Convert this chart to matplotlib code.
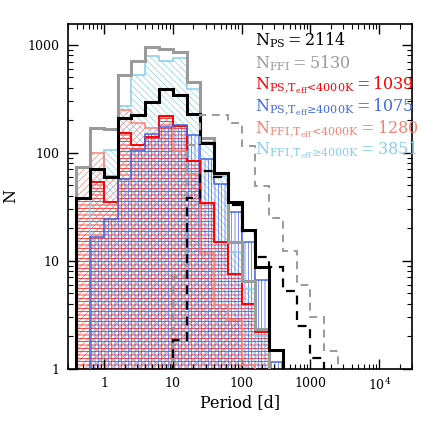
import numpy as np
import matplotlib
matplotlib.use("Agg")
import matplotlib.pyplot as plt
from matplotlib.ticker import FixedLocator, LogLocator, NullFormatter

plt.rcParams['font.family'] = 'DejaVu Serif'
plt.rcParams['mathtext.fontset'] = 'dejavuserif'
plt.rcParams['hatch.linewidth'] = 0.5

# bin edges in log10(Period/d)
log_edges = np.round(np.arange(-0.4, 3.41, 0.2), 2)
edges = 10 ** log_edges

# counts per bin
n_ps        = [38, 71, 60, 209, 225, 295, 390, 344, 228, 123, 65.5, 35.3, 19.3, 8.8, 1.5, 0, 0, 0, 0]
n_ffi       = [74, 171, 166, 520, 713, 946, 914, 857, 452, 137, 65, 15, 6.5, 2.3, 0, 0, 0, 0, 0]
n_ps_cool   = [38, 54, 35, 152, 117, 141, 217, 176, 83, 34, 15, 7.5, 4.0, 2.2, 0, 0, 0, 0, 0]
n_ps_hot    = [0, 16.7, 24.2, 57, 106, 150, 175, 180, 147, 88, 51, 28, 15, 6.6, 1.15, 0, 0, 0, 0]
n_ffi_cool  = [74, 100, 61, 250, 189, 170, 213, 103, 63, 11.7, 3.9, 2.8, 1.07, 0, 0, 0, 0, 0, 0]
n_ffi_hot   = [0, 71, 105, 270, 530, 780, 701, 754, 389, 125, 61, 12, 5.5, 2.0, 0, 0, 0, 0, 0]
n_ps_dash   = [0, 0, 0, 0, 0, 0, 0, 1.84, 38, 68, 60, 33, 19, 10.7, 8.8, 5.2, 2.5, 1.24, 0]
n_ffi_dash  = [0, 0, 0, 0, 0, 0, 0, 7.1, 117, 225, 225, 188, 116, 49, 24.7, 12.3, 6.0, 3.0, 1.45]

labels = [r'$\mathrm{N}_{\text{PS}}=\mathrm{2114}$',
          r'$\mathrm{N}_{\text{FFI}}=\mathrm{5130}$',
          r'$\mathrm{N}_{\text{PS,T}_{\text{eff}}\text{<4000K}}=\mathrm{1039}$',
          r'$\mathrm{N}_{\text{PS,T}_{\text{eff}}\text{≥4000K}}=\mathrm{1075}$',
          r'$\mathrm{N}_{\text{FFI,T}_{\text{eff}}\text{<4000K}}=\mathrm{1280}$',
          r'$\mathrm{N}_{\text{FFI,T}_{\text{eff}}\text{≥4000K}}=\mathrm{3851}$']
label_colors = ['black', '#9a9a9a', 'red', 'royalblue', 'salmon', 'skyblue']

xticks = [1, 10, 100, 1000, 10000]
xticklabels = ['1', '10', '100', '1000', r'10$^4$']
yticks = [1, 10, 100, 1000]
yticklabels = ['1', '10', '100', '1000']

fig = plt.figure(figsize=(4.36, 4.36), dpi=100)
ax = fig.add_axes([68 / 436, 67.5 / 436, 344 / 436, 344.5 / 436])
ax.set_xscale('log')
ax.set_yscale('log')


def prep(v):
    v = np.asarray(v, dtype=float)
    return np.where(v > 0, v, 0.5)


# hatched fills
fills = [(n_ffi_hot, 'skyblue', '\\\\\\\\\\'),
         (n_ffi_cool, 'salmon', '/////'),
         (n_ps_cool, 'red', '-----'),
         (n_ps_hot, 'royalblue', '|||||')]
for vals, col, h in fills:
    ax.stairs(prep(vals), edges, baseline=0.5, fill=True, facecolor='none',
              edgecolor=col, hatch=h, linewidth=0, zorder=1)

# outlines
outlines = [(n_ffi_hot, 'skyblue', 1.1, '-'),
            (n_ffi_cool, 'salmon', 1.1, '-'),
            (n_ps_cool, 'red', 1.4, '-'),
            (n_ps_hot, 'royalblue', 1.1, '-'),
            (n_ffi, '#9a9a9a', 2.2, '-'),
            (n_ps, 'black', 2.2, '-'),
            (n_ffi_dash, '#9a9a9a', 1.4, (0, (4, 3))),
            (n_ps_dash, 'black', 1.6, (0, (4, 3)))]
for i, (vals, col, lw, ls) in enumerate(outlines):
    ax.stairs(prep(vals), edges, baseline=0.5, color=col, linewidth=lw,
              linestyle=ls, zorder=2 + i)

ax.set_xlim(0.3, 3e4)
ax.set_ylim(1, 1560)

ax.xaxis.set_major_locator(FixedLocator(xticks))
ax.set_xticklabels(xticklabels)
ax.yaxis.set_major_locator(FixedLocator(yticks))
ax.set_yticklabels(yticklabels)
ax.xaxis.set_minor_locator(LogLocator(base=10, subs=np.arange(2, 10), numticks=20))
ax.yaxis.set_minor_locator(LogLocator(base=10, subs=np.arange(2, 10), numticks=20))
ax.xaxis.set_minor_formatter(NullFormatter())
ax.yaxis.set_minor_formatter(NullFormatter())
ax.tick_params(which='both', direction='in', top=True, right=True, labelsize=9)
ax.tick_params(which='major', length=7, width=1.0, pad=6)
ax.tick_params(which='minor', length=3.5, width=0.8)
for s in ax.spines.values():
    s.set_linewidth(1.2)

ax.set_xlabel('Period [d]', fontsize=11.5, labelpad=1)
ax.set_ylabel('N', fontsize=11.5, labelpad=6)

ys = [0.937, 0.872, 0.811, 0.747, 0.683, 0.622]
for lab, col, y in zip(labels, label_colors, ys):
    ax.text(0.544, y, lab, color=col, fontsize=11.5, transform=ax.transAxes,
            ha='left', va='baseline', zorder=20)

fig.savefig('out.png', dpi=100)
